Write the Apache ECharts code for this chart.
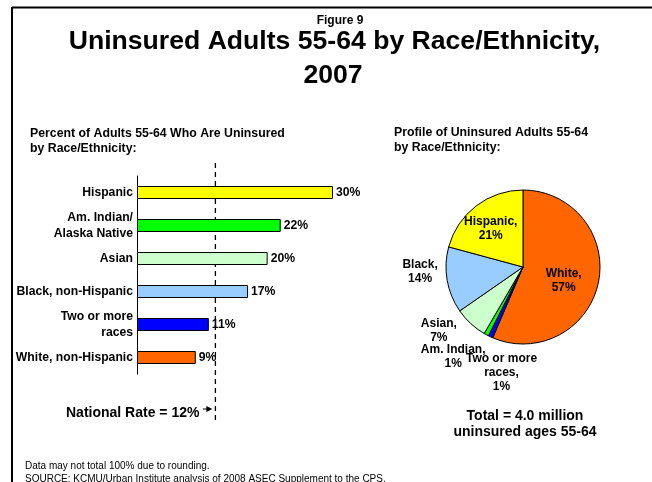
<!DOCTYPE html>
<html>
<head>
<meta charset="utf-8">
<script src="https://cdn.jsdelivr.net/npm/echarts@6/dist/echarts.min.js"></script>
<style>
  html, body { margin: 0; padding: 0; background: #fff; }
  #chart { width: 652px; height: 482px; }
</style>
</head>
<body>
<div id="chart"></div>
<script>
// Bar chart: share of adults 55-64 without insurance, by group
const barCategories = ['Hispanic', 'Am. Indian/\nAlaska Native', 'Asian', 'Black, non-Hispanic', 'Two or more\nraces', 'White, non-Hispanic'];
const barValues = [30, 22, 20, 17, 11, 9];
const barColors = ['#FFFF00', '#00FF00', '#CCFFCC', '#99CCFF', '#0000FF', '#FF6600'];
const nationalRate = 12;

// Pie chart: composition of the uninsured 55-64 population
const pieNames = ['White', 'Two or more\nraces', 'Am. Indian', 'Asian', 'Black', 'Hispanic'];
const pieValues = [57, 1, 1, 7, 14, 21];
const pieColors = ['#FF6600', '#0000FF', '#00FF00', '#CCFFCC', '#99CCFF', '#FFFF00'];
// label nudges (px) for each slice label, relative to the inside anchor
const pieLabelShift = [[0, 5], [-4, 68], [-50, 53], [-56, 33], [-62, -2], [-7, -5]];

const FONT = '"Liberation Sans", Arial, sans-serif';
const chart = echarts.init(document.getElementById('chart'), null, { renderer: 'canvas' });

function txt(x, y, text, size, opts) {
  opts = opts || {};
  return {
    type: 'text', x: x, y: y, z: 10,
    style: {
      text: text,
      font: (opts.weight || 'bold') + ' ' + size + 'px ' + FONT,
      fill: '#000',
      align: opts.align || 'left',
      verticalAlign: 'middle',
      lineHeight: opts.lineHeight || size
    }
  };
}

// Step 1: bar chart and its axes
chart.setOption({
  animation: false,
  backgroundColor: '#fff',
  grid: { left: 137, top: 176, height: 198, width: 261.3 },
  xAxis: {
    type: 'value', min: 0, max: 40, show: false
  },
  yAxis: {
    type: 'category', inverse: true, data: barCategories,
    axisLine: { show: true, lineStyle: { color: '#000', width: 1 } },
    axisTick: { show: false },
    axisLabel: {
      color: '#000', fontFamily: FONT, fontWeight: 'bold', fontSize: 12.2,
      lineHeight: 16, margin: 4, align: 'right'
    }
  },
  series: [
    {
      type: 'bar',
      data: barValues.map((v, i) => ({ value: v, itemStyle: { color: barColors[i] } })),
      barWidth: 13,
      itemStyle: { borderColor: '#000', borderWidth: 1 },
      label: {
        show: true, position: 'right', distance: 3, formatter: '{c}%',
        color: '#000', fontFamily: FONT, fontWeight: 'bold', fontSize: 12.2
      }
    }
  ]
});

// Reference line for the national rate, positioned through the value axis
const rx = chart.convertToPixel({ xAxisIndex: 0, yAxisIndex: 0 }, [nationalRate, 0])[0];

// Step 2: pie chart, headings and annotations
chart.setOption({
  series: [
    {},
    {
      type: 'pie',
      center: [523, 267],
      radius: 77,
      startAngle: 90,
      clockwise: true,
      data: pieNames.map((n, i) => ({ name: n, value: pieValues[i], itemStyle: { color: pieColors[i] } })),
      itemStyle: { borderColor: '#000', borderWidth: 1 },
      label: {
        show: true, position: 'inside', formatter: '{b},\n{c}%',
        color: '#000', fontFamily: FONT, fontWeight: 'bold', fontSize: 12, lineHeight: 14
      },
      labelLayout: function (p) {
        const s = pieLabelShift[p.dataIndex];
        return { dx: s[0], dy: s[1] };
      },
      labelLine: { show: false },
      emphasis: { disabled: true }
    }
  ],
  graphic: [
    // frame
    { type: 'line', shape: { x1: 12, y1: 7.5, x2: 652, y2: 7.5 }, style: { stroke: '#000', lineWidth: 2 } },
    { type: 'line', shape: { x1: 12, y1: 7, x2: 12, y2: 482 }, style: { stroke: '#000', lineWidth: 2 } },
    // headings
    txt(340, 21, 'Figure 9', 12, { align: 'center' }),
    txt(334.5, 42, 'Uninsured Adults 55-64 by Race/Ethnicity,', 26.6, { align: 'center' }),
    txt(333, 75.5, '2007', 26.6, { align: 'center' }),
    txt(30, 133.3, 'Percent of Adults 55-64 Who Are Uninsured', 12.3),
    txt(30, 148.3, 'by Race/Ethnicity:', 12.3),
    txt(394, 132.7, 'Profile of Uninsured Adults 55-64', 12.3),
    txt(394, 147.7, 'by Race/Ethnicity:', 12.3),
    // national rate marker
    {
      type: 'line', shape: { x1: rx, y1: 163, x2: rx, y2: 424 },
      style: { stroke: '#000', lineWidth: 1.3, lineDash: [5, 4] }
    },
    txt(66, 412.7, 'National Rate = 12%', 14),
    { type: 'line', shape: { x1: 203, y1: 409, x2: rx - 7, y2: 409 }, style: { stroke: '#000', lineWidth: 1 } },
    { type: 'polygon', shape: { points: [[rx - 3, 409], [rx - 9, 406], [rx - 9, 412]] }, style: { fill: '#000' } },
    // pie total
    txt(525, 416.3, 'Total = 4.0 million', 14, { align: 'center' }),
    txt(525, 432, 'uninsured ages 55-64', 14, { align: 'center' }),
    // notes
    txt(25, 466, 'Data may not total 100% due to rounding.', 10, { weight: 'normal' }),
    txt(25, 479, 'SOURCE: KCMU/Urban Institute analysis of 2008 ASEC Supplement to the CPS.', 10, { weight: 'normal' })
  ]
});
</script>
</body>
</html>
